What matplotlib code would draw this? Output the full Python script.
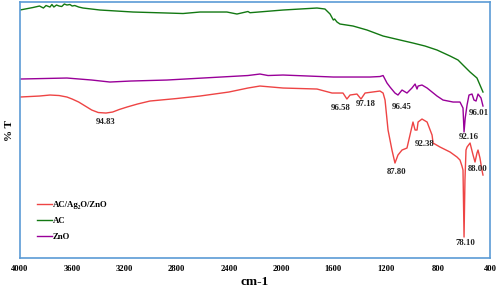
import matplotlib
matplotlib.use("Agg")
import matplotlib.pyplot as plt

# wavenumber (cm-1) and relative transmittance (arbitrary offset units)
ac_wn = [4000, 3900, 3850, 3820, 3800, 3770, 3755, 3740, 3720, 3700, 3680, 3660, 3640, 3617,
         3600, 3580, 3550, 3517, 3387, 3134, 2874, 2751, 2621, 2415, 2338, 2254, 2238, 1985,
         1725, 1664, 1625, 1600, 1590, 1572, 1549, 1449, 1342, 1219, 1089, 990, 898, 806,
         706, 645, 607, 553, 500, 477, 454]
ac_t = [248, 250.5, 252, 250, 252.5, 251, 253.5, 251, 253, 252, 251.5, 254, 253, 253.5,
        252, 252.5, 251, 250, 248, 246, 245, 244.5, 246, 246, 244, 246.5, 245.3, 248,
        250, 249, 244, 238, 239, 236, 234, 232, 228, 222, 218, 215, 212, 208,
        202, 198, 193, 186, 180, 173, 166]

zno_wn = [4000, 3640, 3450, 3311, 3150, 2874, 2254, 2162, 2100, 1985, 1600, 1319, 1243, 1219,
          1189, 1166, 1128, 1105, 1074, 1036, 998, 974, 959, 951, 921, 882, 844, 806, 760,
          683, 630, 607, 599, 590, 576, 561, 538, 523, 507, 492, 469, 454]
zno_t = [179, 180, 178, 176, 177, 178, 182.5, 184, 182.5, 183, 181, 181, 181.5, 182.5,
         175, 171, 165, 163, 168, 165, 170, 174, 169, 172, 173, 170, 166, 162, 158,
         156, 156, 150, 126, 140, 153, 163, 164, 158, 157, 164, 160, 152]

comp_wn = [4000, 3850, 3770, 3700, 3640, 3600, 3550, 3500, 3450, 3400, 3341, 3290, 3240,
           3180, 3100, 3004, 2800, 2621, 2400, 2254, 2162, 1985, 1725, 1610, 1526,
           1496, 1472, 1419, 1388, 1357, 1243, 1219, 1204, 1181, 1151, 1128, 1105, 1074,
           1036, 990, 974, 959, 951, 921, 882, 844, 836, 783, 706, 653, 630, 615, 607,
           599, 592, 584, 576, 553, 530, 515, 500, 492, 477, 462, 454]
comp_t = [161, 162, 163, 162.5, 161, 159, 156, 152, 148, 145.5, 145, 146, 148.5,
          151, 154, 157, 159.5, 162, 166, 170, 172, 170, 169, 165, 165,
          159, 163, 164, 159, 165, 167, 165, 158, 128, 108, 95, 103, 108,
          110, 136, 128, 128, 136, 139, 136, 123, 115, 111, 106, 101, 98, 92, 88,
          21, 78, 108, 111, 115, 103, 96, 105, 108, 100, 88, 83]

peak_labels = ["94.83", "96.58", "97.18", "96.45", "96.01", "92.16", "92.38", "87.80", "88.00", "78.10"]
peak_wn = [3341, 1541, 1350, 1074, 484, 561, 898, 1112, 492, 592]
peak_t = [136, 150, 154, 151, 145, 121, 114, 86, 89, 15]

serif = ["Liberation Serif", "DejaVu Serif"]

fig = plt.figure(figsize=(4.98, 2.88), dpi=100)
ax = fig.add_axes([0.040, 0.104, 0.944, 0.889])

ax.plot(comp_wn, comp_t, color="#ee4444", lw=1.0, label="AC/Ag\u2082O/ZnO")
ax.plot(ac_wn, ac_t, color="#127812", lw=1.0, label="AC")
ax.plot(zno_wn, zno_t, color="#990099", lw=1.0, label="ZnO")

for txt, x, y in zip(peak_labels, peak_wn, peak_t):
    ax.text(x, y, txt, ha="center", va="center", fontsize=6.3,
            fontweight="bold", family=serif, color="#222222")

ax.set_xlim(4000, 400)
ax.set_ylim(0, 256)
ax.set_xticks([4000, 3600, 3200, 2800, 2400, 2000, 1600, 1200, 800, 400])
ax.set_yticks([])
ax.tick_params(axis="x", length=0, pad=5, labelsize=6.2)
for lab in ax.get_xticklabels():
    lab.set_fontfamily(serif)
    lab.set_fontweight("bold")

for sp in ax.spines.values():
    sp.set_color("#5b9bd5")
    sp.set_linewidth(1.2)

ax.set_xlabel("cm-1", fontsize=9.5, fontweight="bold", family=serif, labelpad=2)
ax.set_ylabel("% T", fontsize=8, fontweight="bold", family=serif, labelpad=4)

leg = ax.legend(loc="upper left", bbox_to_anchor=(0.036, 0.225), frameon=False,
                borderaxespad=0, borderpad=0, handlelength=1.7, handletextpad=0.1,
                labelspacing=0.9, prop={"family": serif, "weight": "bold", "size": 6.3})

fig.savefig("out.png", dpi=100)
